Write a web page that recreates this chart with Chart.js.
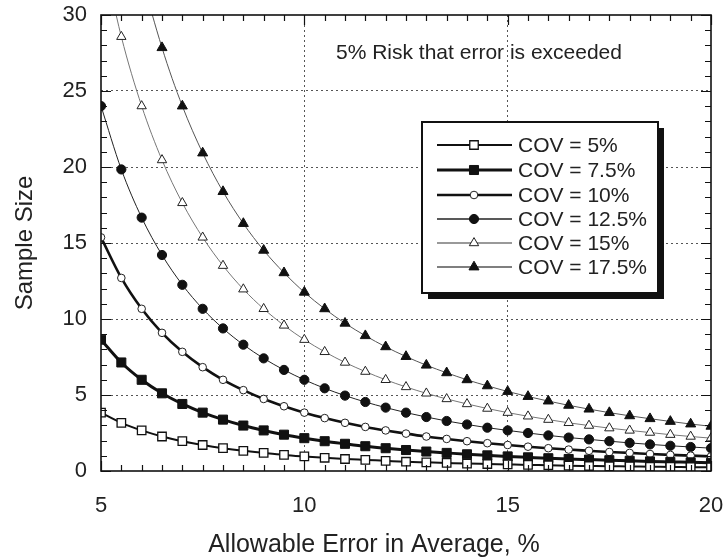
<!DOCTYPE html>
<html>
<head>
<meta charset="utf-8">
<script src="https://cdn.jsdelivr.net/npm/chart.js@4/dist/chart.umd.min.js"></script>
<style>
html,body{margin:0;padding:0;background:#fff;}
#wrap{width:726px;height:559px;}
</style>
</head>
<body>
<div id="wrap"><canvas id="c" width="726" height="559"></canvas></div>
<script>
// Allowable error in average, %
const allowableError = [5,5.5,6,6.5,7,7.5,8,8.5,9,9.5,10,10.5,11,11.5,12,12.5,13,13.5,14,14.5,15,15.5,16,16.5,17,17.5,18,18.5,19,19.5,20];

const cov5   = [3.84,3.17,2.67,2.27,1.96,1.71,1.50,1.33,1.19,1.06,0.96,0.87,0.79,0.73,0.67,0.61,0.57,0.53,0.49,0.46,0.43,0.40,0.38,0.35,0.33,0.31,0.30,0.28,0.27,0.25,0.24];
const cov7_5 = [8.64,7.14,6.00,5.11,4.41,3.84,3.38,2.99,2.67,2.39,2.16,1.96,1.79,1.63,1.50,1.38,1.28,1.19,1.10,1.03,0.96,0.90,0.84,0.79,0.75,0.71,0.67,0.63,0.60,0.57,0.54];
const cov10  = [15.37,12.70,10.67,9.09,7.84,6.83,6.00,5.32,4.74,4.26,3.84,3.48,3.17,2.90,2.67,2.46,2.27,2.11,1.96,1.83,1.71,1.60,1.50,1.41,1.33,1.25,1.19,1.12,1.06,1.01,0.96];
const cov12_5= [24.01,19.84,16.67,14.21,12.25,10.67,9.38,8.31,7.41,6.65,6.00,5.44,4.96,4.54,4.17,3.84,3.55,3.29,3.06,2.85,2.67,2.50,2.34,2.20,2.08,1.96,1.85,1.75,1.66,1.58,1.50];
const cov15  = [34.57,28.57,24.01,20.46,17.64,15.37,13.51,11.96,10.67,9.58,8.64,7.84,7.14,6.54,6.00,5.53,5.11,4.74,4.41,4.11,3.84,3.60,3.38,3.17,2.99,2.82,2.67,2.53,2.39,2.27,2.16];
const cov17_5= [47.06,38.89,32.68,27.85,24.01,20.92,18.38,16.28,14.52,13.04,11.76,10.67,9.72,8.90,8.17,7.53,6.96,6.46,6.00,5.60,5.23,4.90,4.60,4.32,4.07,3.84,3.63,3.44,3.26,3.09,2.94];

const seriesLabels = ['COV = 5%','COV = 7.5%','COV = 10%','COV = 12.5%','COV = 15%','COV = 17.5%'];
const xTickValues = [5,10,15,20];
const yTickValues = [0,5,10,15,20,25,30];

const xTitle = 'Allowable Error in Average, %';
const yTitle = 'Sample Size';
const noteText = '5% Risk that error is exceeded';

const FONT = '"Liberation Sans", Arial, Helvetica, sans-serif';

function pts(arr){ return allowableError.map((x,i)=>({x:x,y:arr[i]})); }

const styles = [
  {pointStyle:'rect', r:6.0, bg:'#ffffff', bc:'#111', bw:1.3, line:'#111', lw:2},
  {pointStyle:'rect', r:6.4, bg:'#111111', bc:'#111', bw:1, line:'#111', lw:3},
  {pointStyle:'circle', r:3.8, bg:'#ffffff', bc:'#222', bw:1, line:'#111', lw:2.6},
  {pointStyle:'circle', r:4.6, bg:'#111111', bc:'#111', bw:1, line:'#222', lw:1},
  {pointStyle:'triangle', r:5.4, bg:'#ffffff', bc:'#222', bw:1, line:'#777', lw:1},
  {pointStyle:'triangle', r:5.8, bg:'#111111', bc:'#111', bw:1, line:'#555', lw:1}
];
const allSeries = [cov5,cov7_5,cov10,cov12_5,cov15,cov17_5];

const datasets = allSeries.map((s,i)=>({
  label: seriesLabels[i],
  data: pts(s),
  showLine: true,
  borderColor: styles[i].line,
  borderWidth: styles[i].lw,
  pointStyle: styles[i].pointStyle,
  pointRadius: styles[i].r,
  pointBackgroundColor: styles[i].bg,
  pointBorderColor: styles[i].bc,
  pointBorderWidth: styles[i].bw,
  cubicInterpolationMode: 'monotone',
  fill: false
}));

function drawMarker(ctx, style, x, y){
  ctx.save();
  ctx.fillStyle = style.bg; ctx.strokeStyle = style.bc; ctx.lineWidth = style.bw;
  const r = style.r;
  ctx.beginPath();
  if(style.pointStyle==='rect'){
    const s = Math.SQRT1_2*r; ctx.rect(x-s,y-s,2*s,2*s);
  } else if(style.pointStyle==='circle'){
    ctx.arc(x,y,r,0,Math.PI*2);
  } else {
    const a = r*Math.cos(Math.PI/6);
    ctx.moveTo(x, y - r);
    ctx.lineTo(x + a, y + r/2);
    ctx.lineTo(x - a, y + r/2);
    ctx.closePath();
  }
  ctx.fill(); ctx.stroke();
  ctx.restore();
}

const framePlugin = {
  id:'frame',
  afterDatasetsDraw(chart){
    const ctx = chart.ctx, a = chart.chartArea;
    const xs = chart.scales.x, ys = chart.scales.y;
    ctx.save();
    ctx.strokeStyle = '#111'; ctx.lineWidth = 1.6;
    ctx.strokeRect(a.left, a.top, a.right-a.left, a.bottom-a.top);
    ctx.lineWidth = 1.2;
    ctx.beginPath();
    for(let v = xs.min; v <= xs.max + 1e-9; v += 0.5){
      const px = Math.round(xs.getPixelForValue(v))+0.5;
      const major = Math.abs(v/5 - Math.round(v/5))<1e-9;
      const L = major ? 10 : 6;
      ctx.moveTo(px, a.bottom); ctx.lineTo(px, a.bottom - L);
      ctx.moveTo(px, a.top); ctx.lineTo(px, a.top + L);
    }
    for(let v = ys.min; v <= ys.max + 1e-9; v += 1){
      const py = Math.round(ys.getPixelForValue(v))+0.5;
      const major = v % 5 === 0;
      const L = major ? 10 : 6;
      ctx.moveTo(a.left, py); ctx.lineTo(a.left + L, py);
      ctx.moveTo(a.right, py); ctx.lineTo(a.right - L, py);
    }
    ctx.stroke();

    // annotation
    ctx.fillStyle = '#222';
    ctx.font = '21px ' + FONT;
    ctx.textBaseline = 'middle'; ctx.textAlign = 'left';
    ctx.fillText(noteText, 336, 53);

    // x-axis title
    ctx.font = '25px ' + FONT;
    ctx.textAlign = 'center';
    ctx.fillText(xTitle, 374, 545);

    // legend
    const L0 = 422, T0 = 122, W = 236, H = 171;
    ctx.fillStyle = '#111';
    ctx.fillRect(L0+6, T0+6, W, H);
    ctx.fillStyle = '#fff';
    ctx.fillRect(L0, T0, W, H);
    ctx.strokeStyle = '#111'; ctx.lineWidth = 2;
    ctx.strokeRect(L0, T0, W, H);
    const rowY = [145,170,195,219,243,267];
    chart.data.datasets.forEach((ds,i)=>{
      const y = rowY[i];
      ctx.strokeStyle = ds.borderColor; ctx.lineWidth = Math.max(ds.borderWidth, 1.5);
      ctx.beginPath(); ctx.moveTo(437,y); ctx.lineTo(512,y); ctx.stroke();
      drawMarker(ctx, styles[i], 474, y);
      ctx.fillStyle = '#222';
      ctx.font = '21px ' + FONT;
      ctx.textAlign = 'left'; ctx.textBaseline = 'middle';
      ctx.fillText(ds.label, 518, y+1);
    });
    ctx.restore();
  }
};

new Chart(document.getElementById('c'), {
  type: 'scatter',
  data: { datasets },
  options: {
    responsive: false,
    animation: false,
    devicePixelRatio: 1,
    layout: { padding: { top: 15, right: 15, left: 0, bottom: 0 } },
    plugins: { legend: { display: false }, tooltip: { enabled: false } },
    scales: {
      x: {
        type: 'linear', min: 5, max: 20,
        afterBuildTicks(scale){ scale.ticks = xTickValues.map(v=>({value:v})); },
        afterFit(scale){ scale.height = 88; scale.paddingLeft = 0; scale.paddingRight = 0; },
        ticks: { color: '#222', font: { family: FONT, size: 22 }, padding: 22 },
        grid: {
          drawTicks: false, lineWidth: 1,
          color: (c)=> (c.tick && (c.tick.value===5 || c.tick.value===20)) ? 'rgba(0,0,0,0)' : '#555',
          borderDash: [2,3]
        },
        border: { display: false, dash: [2,3] }
      },
      y: {
        type: 'linear', min: 0, max: 30,
        afterBuildTicks(scale){ scale.ticks = yTickValues.map(v=>({value:v})); },
        afterFit(scale){ scale.width = 101; scale.paddingTop = 0; scale.paddingBottom = 0; },
        ticks: { color: '#222', font: { family: FONT, size: 22 }, padding: 14 },
        title: { display: true, text: yTitle, color: '#222', font: { family: FONT, size: 24 }, padding: { top: 11, bottom: 0 } },
        grid: {
          drawTicks: false, lineWidth: 1,
          color: (c)=> (c.tick && (c.tick.value===0 || c.tick.value===30)) ? 'rgba(0,0,0,0)' : '#555',
          borderDash: [2,3]
        },
        border: { display: false, dash: [2,3] }
      }
    }
  },
  plugins: [framePlugin]
});
</script>
</body>
</html>
